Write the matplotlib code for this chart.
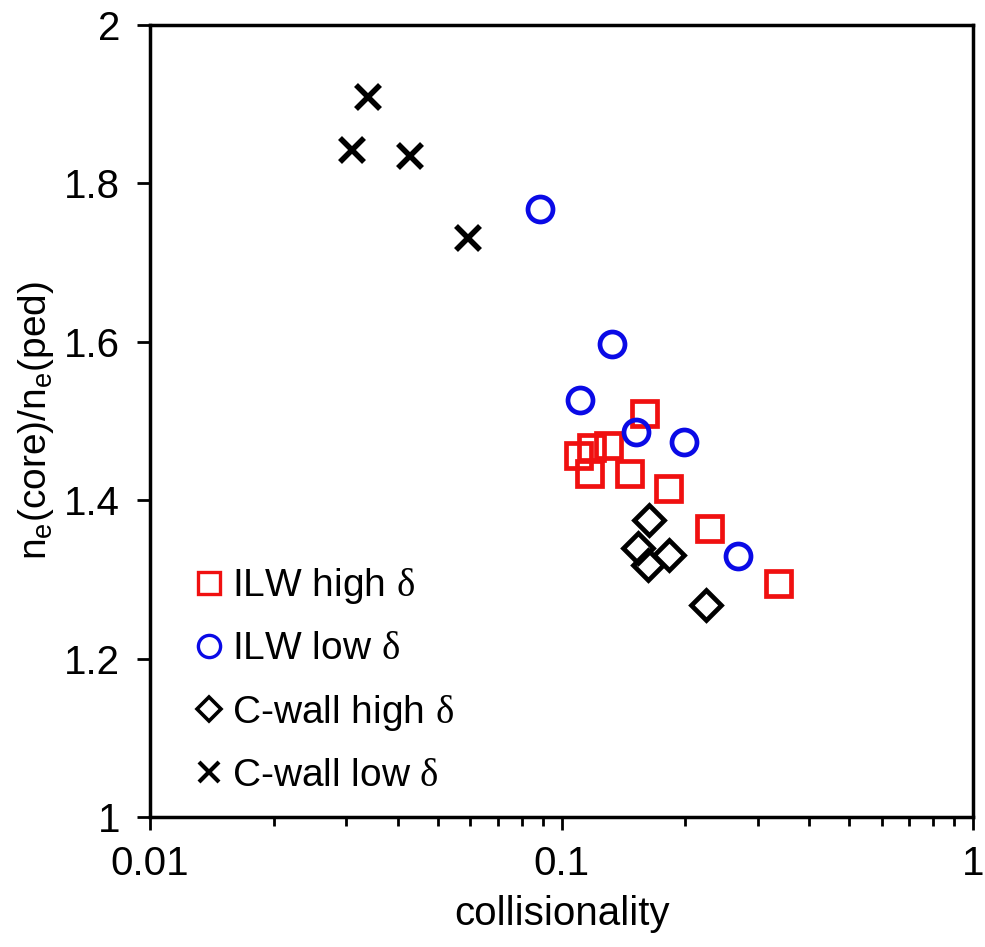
import matplotlib
matplotlib.use("Agg")
import matplotlib.pyplot as plt
from matplotlib.lines import Line2D

plt.rcParams["font.family"] = ["Liberation Sans", "DejaVu Sans"]
plt.rcParams["mathtext.fontset"] = "custom"
plt.rcParams["mathtext.rm"] = "Liberation Serif"
plt.rcParams["mathtext.sf"] = "Liberation Sans"

# ILW high delta (red squares)
ilw_high_x = [0.1094, 0.1177, 0.130, 0.1164, 0.1455, 0.181, 0.228, 0.336, 0.159]
ilw_high_y = [1.457, 1.467, 1.470, 1.434, 1.434, 1.415, 1.365, 1.295, 1.510]

# ILW low delta (blue circles)
ilw_low_x = [0.0889, 0.133, 0.111, 0.152, 0.199, 0.268]
ilw_low_y = [1.768, 1.597, 1.527, 1.486, 1.473, 1.330]

# C-wall high delta (black diamonds)
cw_high_x = [0.163, 0.153, 0.182, 0.162, 0.224]
cw_high_y = [1.375, 1.340, 1.331, 1.318, 1.268]

# C-wall low delta (black crosses)
cw_low_x = [0.0339, 0.0310, 0.0429, 0.0591]
cw_low_y = [1.909, 1.842, 1.835, 1.731]

labels = ["ILW high $\\mathrm{\\delta}$", "ILW low $\\mathrm{\\delta}$",
          "C-wall high $\\mathrm{\\delta}$", "C-wall low $\\mathrm{\\delta}$"]

red = "#f01010"
blue = "#0a0ae6"

fig = plt.figure(figsize=(9.85, 9.47), dpi=100)
ax = fig.add_axes([150/985, 1-817/947, 823/985, 792/947])

ax.plot(ilw_high_x, ilw_high_y, ls="none", marker="s", ms=18, mfc="none", mec=red, mew=3.4)
ax.plot(ilw_low_x, ilw_low_y, ls="none", marker="o", ms=18, mfc="none", mec=blue, mew=3.4)
ax.plot(cw_high_x, cw_high_y, ls="none", marker="D", ms=15, mfc="none", mec="black", mew=3.4)
ax.plot(cw_low_x, cw_low_y, ls="none", marker="x", ms=17, mec="black", mew=4)

ax.set_xscale("log")
ax.set_xlim(0.01, 1)
ax.set_ylim(1, 2)
ax.set_yticks([1, 1.2, 1.4, 1.6, 1.8, 2])
ax.set_yticklabels(["1", "1.2", "1.4", "1.6", "1.8", "2"])
ax.set_xticks([0.01, 0.1, 1])
ax.set_xticklabels(["0.01", "0.1", "1"])

for s in ax.spines.values():
    s.set_linewidth(2.5)
ax.tick_params(which="major", direction="out", length=9.5, width=2, labelsize=29)
ax.tick_params(which="minor", direction="out", length=6.5, width=2)
ax.tick_params(axis="x", which="major", pad=11)
ax.tick_params(axis="y", which="major", pad=12)

ax.set_xlabel("collisionality", fontsize=29, labelpad=8)
ax.set_ylabel("n$_\\mathsf{e}$(core)/n$_\\mathsf{e}$(ped)", fontsize=28, labelpad=6)

handles = [
    Line2D([], [], ls="none", marker="s", ms=16, mfc="none", mec=red, mew=2.4),
    Line2D([], [], ls="none", marker="o", ms=16, mfc="none", mec=blue, mew=2.4),
    Line2D([], [], ls="none", marker="D", ms=12, mfc="none", mec="black", mew=2.6),
    Line2D([], [], ls="none", marker="x", ms=14, mec="black", mew=3),
]
ax.legend(handles, labels, loc="lower left", bbox_to_anchor=(0.0526, 0.029), frameon=False,
          fontsize=28, handlelength=0.8, handletextpad=0.2, labelspacing=0.65,
          borderaxespad=0, borderpad=0)

fig.savefig("out.png", dpi=100)
